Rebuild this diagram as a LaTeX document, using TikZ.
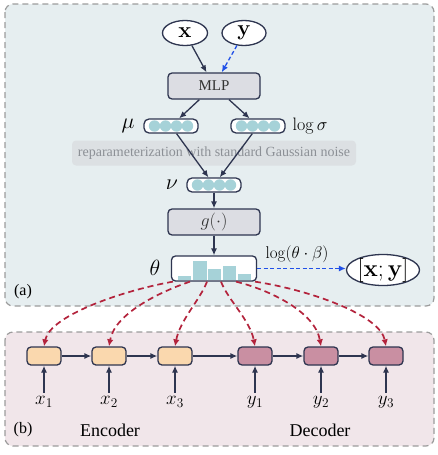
\RequirePackage{fix-cm}
\documentclass[tikz,border=0pt]{standalone}
\usepackage{amsmath,amssymb}
\usepackage[no-math]{fontspec}
\setmainfont{Liberation Serif}
\usepackage{xcolor}
\usepackage{tikz}
\usetikzlibrary{arrows.meta}
\usetikzlibrary{calc}
\usetikzlibrary{shapes.geometric}
\definecolor{navy}{HTML}{2E3550}
\definecolor{panelA}{HTML}{E6EEF0}
\definecolor{panelB}{HTML}{F1E6EA}
\definecolor{frame}{HTML}{9C9C9C}
\definecolor{cellc}{HTML}{A6D2D8}
\definecolor{boxgray}{HTML}{DCDDE3}
\definecolor{encc}{HTML}{FAD8AE}
\definecolor{decc}{HTML}{C98FA2}
\definecolor{dred}{HTML}{B3233C}
\definecolor{dblue}{HTML}{2050E8}
\definecolor{noisebg}{HTML}{DCE0E3}
\definecolor{noisetxt}{HTML}{8C9096}
\newcommand\fsz[1]{\fontsize{#1}{#1}\selectfont}
\tikzstyle{panel}=[draw=frame,line width=1.2pt,dash pattern=on 6pt off 4pt,rounded corners=8pt]
\tikzstyle{var}=[draw=navy,line width=1.3pt,ellipse,inner sep=0pt,fill=white,font=\fsz{22}]
\tikzstyle{blk}=[draw=navy,line width=1.3pt,fill=boxgray,rounded corners=4pt,minimum width=92pt,minimum height=26pt,text=black!80]
\tikzstyle{cellbox}=[draw=navy,line width=1.3pt,fill=white,rounded corners=5pt,minimum width=54pt,minimum height=14pt,inner sep=0pt]
\tikzstyle{rnn}=[draw=navy,line width=1.3pt,rounded corners=4pt,minimum width=34pt,minimum height=18pt,inner sep=0pt]
\tikzstyle{lab}=[font=\fsz{22}]
\tikzstyle{flow}=[draw=navy,line width=1.3pt,-{Latex[length=7pt,width=6pt]}]
\tikzstyle{blueflow}=[draw=dblue,line width=1.3pt,dash pattern=on 4pt off 2.5pt,-{Latex[length=7pt,width=6pt]}]
\tikzstyle{redflow}=[draw=dred,line width=1.7pt,dash pattern=on 6pt off 4pt,-{Latex[length=7pt,width=6.5pt]}]
\begin{document}
\begin{tikzpicture}[x=1pt,y=-1pt]
	\useasboundingbox (0,0) rectangle (437,455);
	\draw[panel,fill=panelA] (5,4) rectangle (434,306);
	\draw[panel,fill=panelB] (5,332) rectangle (434,446);
	% (a) topic inference
	\node[var,minimum width=45pt,minimum height=25pt] (x) at (185,33) {$\mathbf{x}$};
	\node[var,minimum width=44pt,minimum height=25pt] (y) at (244,33) {$\mathbf{y}$};
	\node[blk,font=\fsz{15}] (mlp) at (214,86) {MLP};
	\node[cellbox] (mu)  at (171,126) {};
	\node[cellbox] (sig) at (258,126) {};
	\node[lab] (mulab) at (128,126) {$\mu$};
	\node[font=\fsz{18}] (siglab) at (310,126) {$\log\sigma$};
	\node[fill=noisebg,rounded corners=4pt,minimum width=284pt,minimum height=25pt,text=noisetxt,font=\fsz{14}] (noise) at (214,153) {reparameterization with standard Gaussian noise};
	\node[cellbox] (nu) at (214,185) {};
	\node[lab] (nulab) at (172,185) {$\nu$};
	\foreach \v in {mu,sig,nu}
		\foreach \dx in {-16.5,-5.5,5.5,16.5}
			\fill[cellc] ($(\v.center)+(\dx,0)$) circle (5.7pt);
	\node[blk,font=\fsz{18}] (g) at (214,222) {$g(\cdot)$};
	\node[draw=navy,line width=1.3pt,fill=white,rounded corners=4pt,minimum width=85pt,minimum height=25pt] (theta) at (214,268.5) {};
	\foreach \bx/\bh in {184.5/4,200/19,214.5/11,229.5/14,244.5/6}
		\fill[cellc] (\bx-6.8,280.3) rectangle (\bx+6.8,280.3-\bh);
	\node[lab] (thlab) at (155,268) {$\theta$};
	\node[var,minimum width=73pt,minimum height=31pt] (xy) at (383,270) {};
	\node[font=\fsz{24}] (xytext) at (xy) {$[\mathbf{x};\mathbf{y}]$};
	\node[font=\fsz{17}] (loglab) at (297,254) {$\log(\theta\cdot\beta)$};
	\draw[flow] (x) -- (mlp);
	\draw[blueflow] (y) -- (mlp);
	\draw[flow] (mlp) -- (mu);
	\draw[flow] (mlp) -- (sig);
	\draw[flow] (mu) -- (nu);
	\draw[flow] (sig) -- (nu);
	\draw[flow] (nu) -- (g);
	\draw[flow] (g) -- (theta);
	\draw[blueflow] (theta.east) -- (theta.east -| xy.west);
	\node[font=\fsz{16}] (alab) at (23,292) {(a)};
	% (b) encoder-decoder
	\foreach \i/\cx in {1/44,2/109,3/175} {
		\node[rnn,fill=encc] (e\i) at (\cx,356) {};
		\node[font=\fsz{19}] (xl\i) at (\cx,402) {$x_\i$};
		\draw[flow] (xl\i) -- (e\i);
	}
	\foreach \i/\cx in {1/255,2/321,3/386} {
		\node[rnn,fill=decc] (d\i) at (\cx,356) {};
		\node[font=\fsz{19}] (yl\i) at (\cx,402) {$y_\i$};
		\draw[flow] (yl\i) -- (d\i);
	}
	\draw[flow] (e1) -- (e2);
	\draw[flow] (e2) -- (e3);
	\draw[flow] (e3) -- (d1);
	\draw[flow] (d1) -- (d2);
	\draw[flow] (d2) -- (d3);
	\node[font=\fsz{16}] (blab) at (23,430) {(b)};
	\node[font=\fsz{18}] (enc) at (110,430) {Encoder};
	\node[font=\fsz{18}] (dec) at (320,430) {Decoder};
	% topic attention
	\draw[redflow] ($(theta.south)+(-41,0)$) .. controls (125,290) and (50,315) .. (e1.north);
	\draw[redflow] ($(theta.south)+(-24,0)$) .. controls (165,290) and (115,312) .. (e2.north);
	\draw[redflow] ($(theta.south)+(-7,0)$) .. controls (200,300) and (180,320) .. (e3.north);
	\draw[redflow] ($(theta.south)+(7,0)$) .. controls (228,300) and (250,320) .. (d1.north);
	\draw[redflow] ($(theta.south)+(22,0)$) .. controls (270,290) and (315,312) .. (d2.north);
	\draw[redflow] ($(theta.south)+(41,0)$) .. controls (310,290) and (380,315) .. (d3.north);
\end{tikzpicture}
\end{document}
